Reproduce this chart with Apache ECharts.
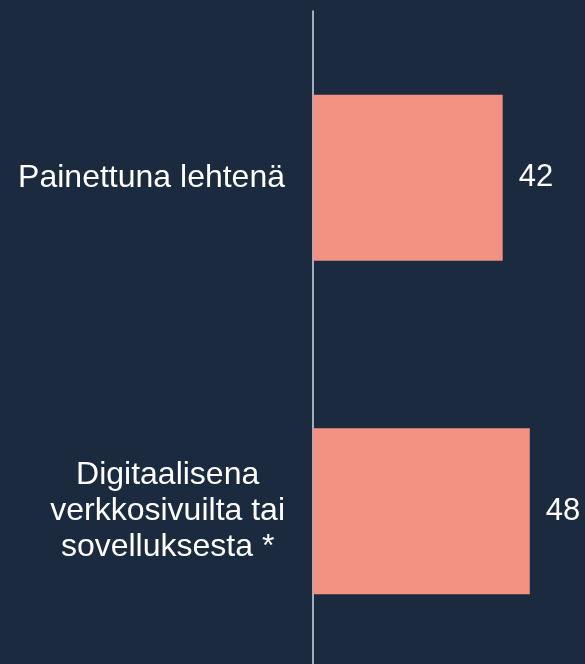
<!DOCTYPE html>
<html style="height: 100%">

<head>
    <meta charset="utf-8" />
    <title>Lukutapa</title>
    <script type="text/javascript" src="https://cdn.jsdelivr.net/npm/echarts@6/dist/echarts.min.js"></script>
</head>

<body style="height: 100%; margin: 0; overflow: hidden; background: #1b2a3f">
    <!-- a bit taller than the window: the plot runs past the bottom edge, like the original -->
    <div id="container" style="height: 678px; width: 585px"></div>
    <script>
        // data
        var categories = ["Painettuna lehtenä", "Digitaalisena\nverkkosivuilta tai\nsovelluksesta *"];
        var values = [42, 48];
        var xMax = 60;

        var dom = document.getElementById("container");
        var myChart = echarts.init(dom, null, { renderer: "canvas" });

        var option = {
            backgroundColor: "#1b2a3f",
            animation: false,
            grid: { left: 313, right: 1, top: 11, bottom: 0, containLabel: false },
            xAxis: {
                type: "value",
                min: 0,
                max: xMax,
                show: false
            },
            yAxis: {
                type: "category",
                inverse: true,
                data: categories,
                axisLine: { show: true, lineStyle: { color: "#cfdbe8", width: 1.5 } },
                axisTick: { show: false },
                axisLabel: {
                    margin: 28,
                    align: "right",
                    formatter: function (v) {
                        // each line centred inside the right-aligned block
                        return v.split("\n").map(function (s) { return "{c|" + s + "}"; }).join("\n");
                    },
                    rich: {
                        c: {
                            align: "center",
                            color: "#ffffff",
                            fontSize: 32,
                            lineHeight: 36,
                            fontFamily: "Liberation Sans, Arial, sans-serif"
                        }
                    }
                }
            },
            series: [
                {
                    type: "bar",
                    data: values,
                    barWidth: 166,
                    itemStyle: { color: "#f29282" },
                    label: {
                        show: true,
                        position: "right",
                        distance: 16,
                        color: "#ffffff",
                        fontSize: 31,
                        fontFamily: "Liberation Sans, Arial, sans-serif"
                    }
                }
            ]
        };
        myChart.setOption(option);
    </script>
</body>

</html>
